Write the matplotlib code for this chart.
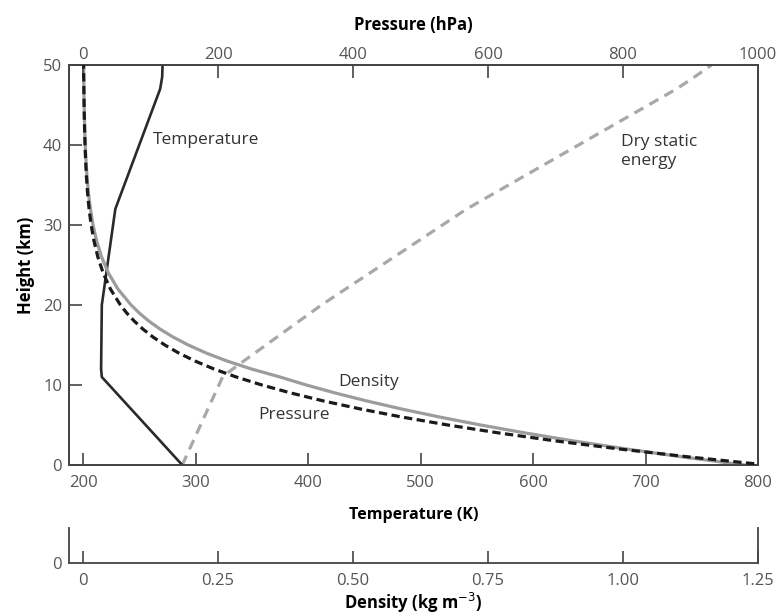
import matplotlib
matplotlib.use("Agg")
import matplotlib.pyplot as plt

plt.rcParams['font.family'] = ['Open Sans', 'DejaVu Sans']

# standard atmosphere
heights = [0, 1, 2, 3, 4, 5, 6, 7, 8, 9, 10, 11, 12, 13, 14, 15, 16, 17, 18, 19, 20,
           22, 24, 26, 28, 30, 32, 34, 36, 38, 40, 42, 44, 46, 48, 50]
pressure = [1013.25, 898.76, 795.01, 701.21, 616.60, 540.48, 472.17, 411.05, 356.51,
            308.00, 264.99, 226.99, 193.99, 165.79, 141.70, 121.11, 103.52, 88.50,
            75.65, 64.67, 55.29, 40.47, 29.72, 21.88, 16.16, 11.97, 8.89, 6.63, 4.99,
            3.77, 2.87, 2.20, 1.70, 1.31, 1.02, 0.80]
density = [1.2250, 1.1117, 1.0066, 0.9093, 0.8194, 0.7364, 0.6601, 0.5900, 0.5258,
           0.4671, 0.4135, 0.3648, 0.3119, 0.2666, 0.2279, 0.1948, 0.1665, 0.1423,
           0.1216, 0.1040, 0.0889, 0.0645, 0.0469, 0.0343, 0.0251, 0.0184, 0.0136,
           0.0099, 0.0073, 0.0054, 0.0040, 0.0030, 0.0023, 0.0017, 0.0013, 0.0010]

t_heights = [0, 11, 12, 20, 32, 47, 48.5, 50]
temperature = [288.15, 216.65, 216.0, 216.65, 228.65, 268.5, 270.3, 270.65]
dry_static = [288.15, 324.0, 333.0, 411.9, 541.0, 727.5, 743.5, 758.7]

temp_ticks = [200, 300, 400, 500, 600, 700, 800]
pres_ticks = [0, 200, 400, 600, 800, 1000]
dens_ticks = [0, 0.25, 0.50, 0.75, 1.00, 1.25]
dens_labels = ['0', '0.25', '0.50', '0.75', '1.00', '1.25']
h_ticks = [0, 10, 20, 30, 40, 50]

TICKC = '#555555'
SPINEC = '#444444'
TXTC = '#333333'

fig = plt.figure(figsize=(7.8, 6.16), dpi=100)
ax = fig.add_axes([0.0885, 0.2451, 0.8833, 0.6494])

# temperature / dry static energy on the bottom axis
ax.plot(dry_static, t_heights, color='#a8a8a8', lw=2.3, dashes=(3.2, 2.2), zorder=2)
ax.plot(temperature, t_heights, color='#2a2a2a', lw=1.9, zorder=4)
ax.set_xlim(187.5, 800)
ax.set_ylim(0, 50)
ax.set_xticks(temp_ticks)
ax.set_yticks(h_ticks)
ax.set_xlabel('Temperature (K)', fontsize=11.5, fontweight='bold', labelpad=12)
ax.set_ylabel('Height (km)', fontsize=12, fontweight='bold', labelpad=6)
ax.tick_params(axis='x', direction='in', length=9, width=1.2, color=SPINEC,
               labelsize=12, labelcolor=TICKC, pad=7)
ax.tick_params(axis='y', direction='in', length=9, width=1.2, color=SPINEC,
               labelsize=12, labelcolor=TICKC, pad=5)
for s in ax.spines.values():
    s.set_color(SPINEC)
    s.set_linewidth(1.3)

# density shares the pressure scale (1.25 kg m-3 <-> 1000 hPa)
axd = ax.twiny()
axd.plot(density, heights, color='#9c9c9c', lw=2.3, zorder=3)
axd.set_xlim(-0.02604, 1.25)
axd.axis('off')

# pressure on the top axis
axp = ax.twiny()
axp.plot(pressure, heights, color='#1a1a1a', lw=2.3, dashes=(2.6, 1.4), zorder=5)
axp.set_xlim(-20.83, 1000)
axp.set_xticks(pres_ticks)
axp.set_xlabel('Pressure (hPa)', fontsize=12, fontweight='bold', labelpad=12)
axp.tick_params(axis='x', direction='in', length=9, width=1.2, color=SPINEC,
                labelsize=12, labelcolor=TICKC, pad=1.5)
for s in axp.spines.values():
    s.set_color(SPINEC)
    s.set_linewidth(1.3)

# curve labels
ax.text(262, 40.6, 'Temperature', fontsize=12.5, color=TXTC, va='center')
ax.text(678, 39.2, 'Dry static\nenergy', fontsize=12.5, color=TXTC, va='center',
        linespacing=1.2)
ax.text(426.6, 10.4, 'Density', fontsize=12.5, color=TXTC, va='center')
ax.text(355.5, 6.25, 'Pressure', fontsize=12.5, color=TXTC, va='center')

# separate density axis below
ax2 = fig.add_axes([0.0885, 0.086, 0.8833, 0.057])
ax2.set_xlim(-0.02604, 1.25)
ax2.set_ylim(0, 1)
ax2.set_xticks(dens_ticks)
ax2.set_xticklabels(dens_labels)
ax2.set_yticks([0])
ax2.spines['top'].set_visible(False)
for s in ['left', 'bottom', 'right']:
    ax2.spines[s].set_color(SPINEC)
    ax2.spines[s].set_linewidth(1.3)
ax2.tick_params(axis='x', direction='in', length=9, width=1.2, color=SPINEC,
                labelsize=12, labelcolor=TICKC, pad=7)
ax2.tick_params(axis='y', direction='in', length=0, labelsize=12, labelcolor=TICKC, pad=5)
ax2.set_xlabel('Density (kg m$^{-3}$)', fontsize=12, fontweight='bold', labelpad=1.5)

fig.savefig('out.png', dpi=100)
